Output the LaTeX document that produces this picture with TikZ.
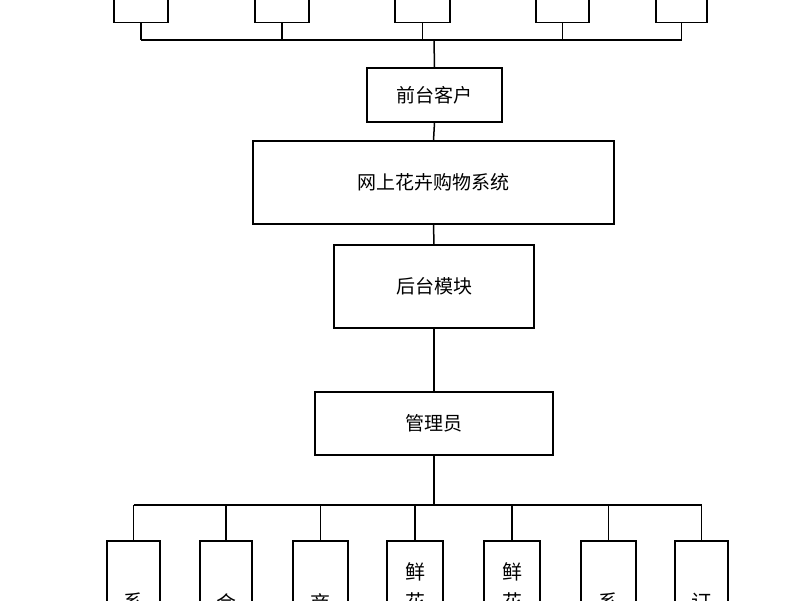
\documentclass[tikz,border=0pt]{standalone}
\usepackage{fontspec}
\newfontfamily\cjk{Noto Sans CJK SC}
\begin{document}
\begin{tikzpicture}[x=1pt,y=-1pt,
  bx/.style={draw=black,line width=1.5pt,fill=white,inner sep=0pt,font=\cjk\fontsize{19}{22}\selectfont},
  ln/.style={draw=black,line width=1.5pt},
  vt/.style={font=\cjk\fontsize{20}{30}\selectfont,align=center,anchor=north,inner sep=0pt}]
\useasboundingbox (0,0) rectangle (800,600);
\clip (0,0) rectangle (800,600);
% top boxes
\foreach \n/\a/\b in {t1/114/168,t2/255/309,t3/395/450,t4/536/589,t5/656/707}{
  \node[bx,minimum width={(\b-\a)*1pt},minimum height=60pt,anchor=south] (\n) at ({(\a+\b)/2},23) {};
}
\coordinate (bt) at (434,40);
\node[bx,minimum width=135pt,minimum height=54pt] (qt) at (434.5,95) {前台客户};
\node[bx,minimum width=361pt,minimum height=83pt] (sys) at (433.5,182.5) {网上花卉购物系统};
\node[bx,minimum width=200pt,minimum height=83pt] (ht) at (434,286.5) {后台模块};
\node[bx,minimum width=238pt,minimum height=63pt] (gl) at (434,423.5) {管理员};
\coordinate (bb) at (434,505);
\foreach \n in {t1,t2,t3,t4,t5}{\draw[ln] (\n.south) -- (\n.south |- bt);}
\draw[ln] (t1.south |- bt) -- (t5.south |- bt);
\draw[ln] (bt) -- (qt.north);
\draw[ln] (qt.south) -- (sys.north);
\draw[ln] (sys.south) -- (ht.north);
\draw[ln] (ht.south) -- (gl.north);
\draw[ln] (gl.south) -- (bb);
% bottom boxes
\foreach \n/\a/\b/\t/\ty in {b1/107/160/系\\统\\管\\理/593,b2/200/252/会\\员\\管\\理/593,b3/293/348/商\\品\\管\\理/593,b4/387/443/鲜\\花\\类\\别/562,b5/484/540/鲜\\花\\信\\息/562,b6/581/636/系\\统\\公\\告/593,b7/675/728/订\\单\\管\\理/593}{
  \node[bx,minimum width={(\b-\a)*1pt},minimum height=200pt,anchor=north] (\n) at ({(\a+\b)/2},540) {};
  \node[vt] (\n t) at ({(\a+\b)/2},\ty) {\t};
}
\draw[ln] (b1.north |- bb) -- (b7.north |- bb);
\foreach \n in {b1,b2,b3,b4,b5,b6,b7}{\draw[ln] (\n.north) -- (\n.north |- bb);}
\end{tikzpicture}
\end{document}
